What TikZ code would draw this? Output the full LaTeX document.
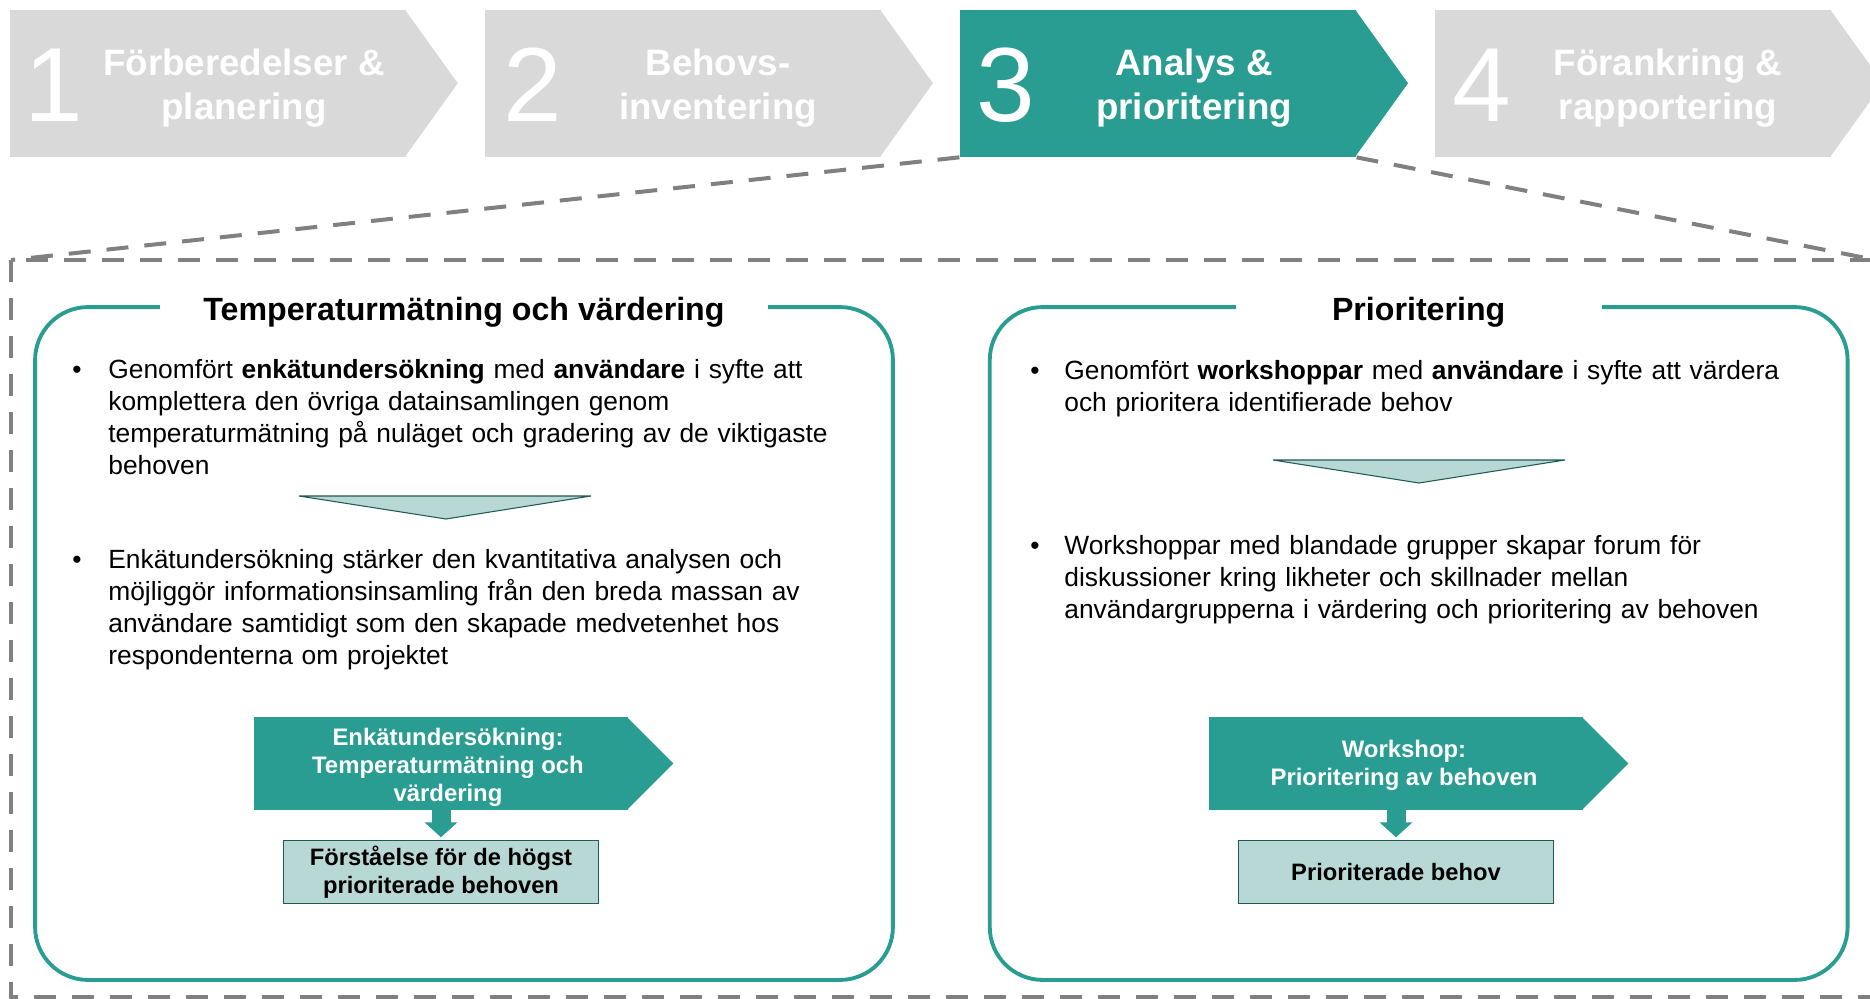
\documentclass[tikz,border=0pt]{standalone}
\usepackage{fontspec}
\setmainfont{Liberation Sans}
\usetikzlibrary{positioning,arrows.meta}
\definecolor{teal3}{RGB}{41,157,146}
\definecolor{phasegrey}{RGB}{217,217,217}
\definecolor{lightteal}{RGB}{183,216,213}
\definecolor{darkteal}{RGB}{31,90,85}
\definecolor{dashgrey}{RGB}{128,128,128}
\tikzset{
	bodytext/.style = {
		anchor=base west, inner sep=0, text width=15.6cm, align=left,
		font=\fontsize{15}{18.4}\selectfont
	},
	bulletmark/.style = {
		anchor=base, inner sep=0, font=\fontsize{15}{18.4}\selectfont
	}
}

\begin{document}
\begin{tikzpicture}[
        x=0.02cm, y=-0.02cm,
        node distance = 1 cm,
        phasebox/.style = {rectangle, inner sep=0, minimum width=7.93cm, minimum height=2.95cm},
        phasenum/.style = {text=white, inner sep=0, font=\fontsize{60}{60}\selectfont},
        phasetext/.style = {text=white, inner sep=0, align=center, font=\fontsize{20.9}{25}\selectfont\bfseries},
        panel/.style = {draw=teal3, line width=2.2pt, rounded corners=1.06cm, minimum width=17.16cm, minimum height=13.46cm},
        paneltitle/.style = {fill=white, inner sep=0, minimum height=0.7cm, font=\fontsize{18.3}{22}\selectfont\bfseries},
        flowbox/.style = {fill=teal3, inner sep=0, minimum width=7.48cm, minimum height=1.86cm},
        flowtext/.style = {text=white, inner sep=0, align=center, font=\fontsize{13.6}{15.9}\selectfont\bfseries},
        outcome/.style = {fill=lightteal, draw=darkteal, line width=0.6pt, inner sep=0, minimum width=6.3cm, minimum height=1.26cm, align=center, font=\fontsize{13.5}{15.9}\selectfont\bfseries},
        zoomframe/.style = {draw=dashgrey, line width=0.08cm, dash pattern=on 0.44cm off 0.32cm},
        downarrow/.style = {draw=teal3, line width=0.38cm, -{Triangle[width=0.64cm,length=0.3cm]}, shorten >=0.06cm},
        wedge/.style = {fill=lightteal, draw=darkteal, line width=0.6pt}
    ]
    \useasboundingbox (0,0) rectangle (1870,998);

    % dashed frame round the zoomed phase
    \coordinate (fnw) at (11,260);
    \coordinate (fne) at (1876,260);
    \draw[zoomframe] (fnw) rectangle (1876,997);

    % phases
    \node[phasebox, fill=phasegrey] (p1) at (207.75,83.25) {};
    \node[phasebox, fill=phasegrey, right = 1.56cm of p1] (p2) {};
    \node[phasebox, fill=teal3, right = 1.56cm of p2] (p3) {};
    \node[phasebox, fill=phasegrey, right = 1.56cm of p3] (p4) {};
    \foreach \n/\c in {p1/phasegrey, p2/phasegrey, p3/teal3, p4/phasegrey}
        \fill[\c] ([xshift=-1pt]\n.north east) -- ([xshift=1.03cm]\n.east) -- ([xshift=-1pt]\n.south east) -- cycle;

    \node[phasenum] (n1) at (54,85) {1};
    \node[phasenum] (n2) at (533,85) {2};
    \node[phasenum] (n3) at (1006,85) {3};
    \node[phasenum] (n4) at (1482,85) {4};
    \node[phasetext] (l1) at (244,88) {Förberedelser \&\\planering};
    \node[phasetext] (l2) at (718,88) {Behovs-\\inventering};
    \node[phasetext] (l3) at (1194,88) {Analys \&\\prioritering};
    \node[phasetext] (l4) at (1668,88) {Förankring \&\\rapportering};

    \draw[zoomframe] (p3.south west) -- (fnw);
    \draw[zoomframe] (p3.south east) -- (fne);

    % panels
    \node[panel] (lp) at (464,643.5) {};
    \node[panel, right = 1.86cm of lp] (rp) {};
    \node[paneltitle, minimum width=12.18cm, yshift=-0.14cm] (lt) at (lp.north) {Temperaturmätning och värdering};
    \node[paneltitle, minimum width=7.32cm, yshift=-0.14cm] (rt) at (rp.north) {Prioritering};

    % left panel
    \node[bodytext] (lb1) at (108,378) {Genomfört \textbf{enkätundersökning} med \textbf{användare} i syfte att\\
        komplettera den övriga datainsamlingen genom\\
        temperaturmätning på nuläget och gradering av de viktigaste\\
        behoven};
    \node[bodytext] (lb2) at (108,568) {Enkätundersökning stärker den kvantitativa analysen och\\
        möjliggör informationsinsamling från den breda massan av\\
        användare samtidigt som den skapade medvetenhet hos\\
        respondenterna om projektet};
    \node[bulletmark] (ld1) at ([xshift=-0.62cm]lb1.base west) {\textbullet};
    \node[bulletmark] (ld2) at ([xshift=-0.62cm]lb2.base west) {\textbullet};
    \filldraw[wedge] (299,496) -- (591,496) -- (446,519) -- cycle;

    \node[flowbox] (fl1) at (441,763.5) {};
    \node[outcome, below = 0.6cm of fl1] (out1) {Förståelse för de högst\\prioriterade behoven};

    % right panel
    \node[bodytext] (rb1) at (1064,379) {Genomfört \textbf{workshoppar} med \textbf{användare} i syfte att värdera\\
        och prioritera identifierade behov};
    \node[bodytext] (rb2) at (1064,554) {Workshoppar med blandade grupper skapar forum för\\
        diskussioner kring likheter och skillnader mellan\\
        användargrupperna i värdering och prioritering av behoven};
    \node[bulletmark] (rd1) at ([xshift=-0.58cm]rb1.base west) {\textbullet};
    \node[bulletmark] (rd2) at ([xshift=-0.58cm]rb2.base west) {\textbullet};
    \filldraw[wedge] (1273,460) -- (1565,460) -- (1419,483) -- cycle;

    \node[flowbox] (fl2) at (1396,763.5) {};
    \node[outcome, below = 0.6cm of fl2] (out2) {Prioriterade behov};

    \foreach \n in {fl1, fl2}
        \fill[teal3] ([xshift=-1pt]\n.north east) -- ([xshift=0.9cm]\n.east) -- ([xshift=-1pt]\n.south east) -- cycle;
    \node[flowtext] (ft1) at ([xshift=0.14cm, yshift=-0.08cm]fl1.center) {Enkätundersökning:\\Temperaturmätning och\\värdering};
    \node[flowtext] (ft2) at ([xshift=0.16cm, yshift=-0.04cm]fl2.center) {Workshop:\\Prioritering av behoven};
    \draw[downarrow] (fl1) -- (out1);
    \draw[downarrow] (fl2) -- (out2);

\end{tikzpicture}
\end{document}
